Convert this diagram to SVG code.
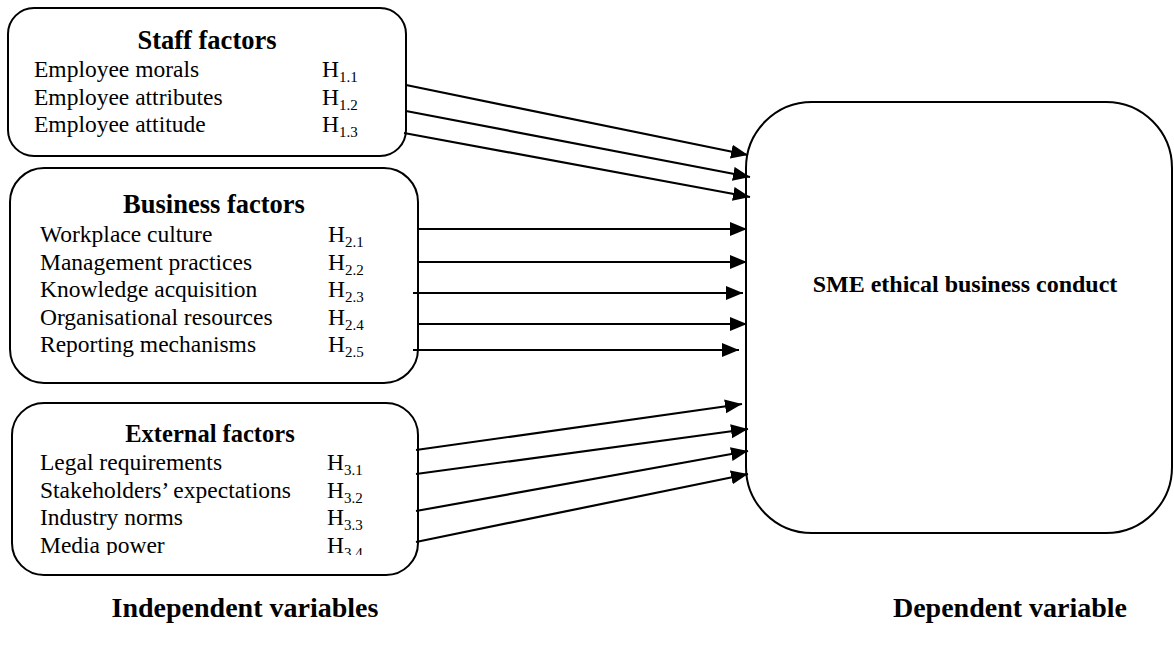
<svg xmlns="http://www.w3.org/2000/svg" width="1174" height="654" viewBox="0 0 1174 654">
  <style>
    .box { fill: #ffffff; stroke: #000000; stroke-width: 2; }
    .title { font-family: "Liberation Serif", "Times New Roman", serif; font-weight: bold; fill: #000; }
    .item { font-family: "Liberation Serif", "Times New Roman", serif; font-size: 23.5px; fill: #000; }
    .sub { font-size: 15px; }
    .label { font-family: "Liberation Serif", "Times New Roman", serif; font-weight: bold; font-size: 28px; fill: #000; }
    .link { stroke: #000; stroke-width: 2.2; fill: none; marker-end: url(#arrow); }
  </style>
  <defs>
    <marker id="arrow" markerUnits="userSpaceOnUse" markerWidth="18" markerHeight="15" refX="17" refY="7" orient="auto">
      <path d="M0,0 L17,7 L0,14 z" fill="#000"/>
    </marker>
    <clipPath id="extClip">
      <rect x="0" y="400" width="420" height="155"/>
    </clipPath>
  </defs>

  <rect width="1174" height="654" fill="#ffffff"/>

  <!-- Independent variable groups -->
  <g id="staff-factors">
    <rect class="box" x="8" y="8" width="398" height="148" rx="26" ry="26"/>
    <text class="title" x="207" y="49" font-size="26.5" text-anchor="middle">Staff factors</text>
    <text class="item" x="34" y="77">Employee morals</text>
    <text class="item" x="34" y="104.6">Employee attributes</text>
    <text class="item" x="34" y="132.2">Employee attitude</text>
    <text class="item" x="322" y="77">H<tspan class="sub" dy="5">1.1</tspan></text>
    <text class="item" x="322" y="104.6">H<tspan class="sub" dy="5">1.2</tspan></text>
    <text class="item" x="322" y="132.2">H<tspan class="sub" dy="5">1.3</tspan></text>
  </g>

  <g id="business-factors">
    <rect class="box" x="10" y="168" width="408" height="215" rx="34" ry="34"/>
    <text class="title" x="214" y="213" font-size="26.5" text-anchor="middle">Business factors</text>
    <text class="item" x="40" y="242">Workplace culture</text>
    <text class="item" x="40" y="269.6">Management practices</text>
    <text class="item" x="40" y="297.2">Knowledge acquisition</text>
    <text class="item" x="40" y="324.8">Organisational resources</text>
    <text class="item" x="40" y="352.4">Reporting mechanisms</text>
    <text class="item" x="328" y="242">H<tspan class="sub" dy="5">2.1</tspan></text>
    <text class="item" x="328" y="269.6">H<tspan class="sub" dy="5">2.2</tspan></text>
    <text class="item" x="328" y="297.2">H<tspan class="sub" dy="5">2.3</tspan></text>
    <text class="item" x="328" y="324.8">H<tspan class="sub" dy="5">2.4</tspan></text>
    <text class="item" x="328" y="352.4">H<tspan class="sub" dy="5">2.5</tspan></text>
  </g>

  <g id="external-factors">
    <rect class="box" x="12" y="403" width="406" height="172" rx="32" ry="32"/>
    <g clip-path="url(#extClip)">
      <text class="title" x="210" y="442" font-size="24.5" text-anchor="middle">External factors</text>
      <text class="item" x="40" y="470">Legal requirements</text>
      <text class="item" x="40" y="497.6">Stakeholders’ expectations</text>
      <text class="item" x="40" y="525.2">Industry norms</text>
      <text class="item" x="40" y="552.8">Media power</text>
      <text class="item" x="327" y="470">H<tspan class="sub" dy="5">3.1</tspan></text>
      <text class="item" x="327" y="497.6">H<tspan class="sub" dy="5">3.2</tspan></text>
      <text class="item" x="327" y="525.2">H<tspan class="sub" dy="5">3.3</tspan></text>
      <text class="item" x="327" y="552.8">H<tspan class="sub" dy="5">3.4</tspan></text>
    </g>
  </g>

  <!-- Dependent variable -->
  <g id="sme-conduct">
    <rect class="box" x="746" y="102" width="426" height="431" rx="66" ry="66"/>
    <text class="title" x="965" y="292" font-size="24" text-anchor="middle">SME ethical business conduct</text>
  </g>

  <!-- Hypothesised links -->
  <g id="connectors">
    <line class="link" x1="406" y1="85" x2="748" y2="155"/>
    <line class="link" x1="406" y1="111" x2="750" y2="177"/>
    <line class="link" x1="404" y1="133" x2="750" y2="197"/>

    <line class="link" x1="417" y1="229" x2="747" y2="229"/>
    <line class="link" x1="417" y1="262" x2="747" y2="262"/>
    <line class="link" x1="413" y1="293" x2="743" y2="293"/>
    <line class="link" x1="417" y1="324" x2="747" y2="324"/>
    <line class="link" x1="413" y1="350" x2="739" y2="350"/>

    <line class="link" x1="416" y1="450" x2="742" y2="404"/>
    <line class="link" x1="416" y1="474" x2="748" y2="429"/>
    <line class="link" x1="416" y1="511" x2="748" y2="451"/>
    <line class="link" x1="416" y1="542" x2="748" y2="474"/>
  </g>

  <!-- Column captions -->
  <text class="label" x="245" y="617" text-anchor="middle">Independent variables</text>
  <text class="label" x="1010" y="617" text-anchor="middle">Dependent variable</text>
</svg>
